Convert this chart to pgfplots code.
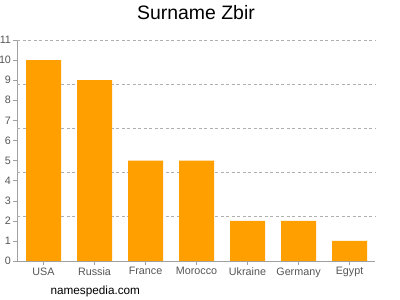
\documentclass[border=0pt]{standalone}
\usepackage{pgfplots}
\pgfplotsset{compat=1.18}
\usepackage{fontspec}
\setmainfont{Liberation Sans}
\definecolor{barorange}{RGB}{255,160,0}
\definecolor{ticktext}{RGB}{85,85,85}
\definecolor{axisgrey}{RGB}{160,160,160}
\definecolor{gridgrey}{RGB}{175,175,175}
\begin{document}
\begin{tikzpicture}[x=1bp,y=1bp]
\useasboundingbox (0,0) rectangle (400,300);
\node[font=\fontsize{19.5}{22}\selectfont, anchor=base] at (196,281) {Surname Zbir};
\node[font=\fontsize{11.8}{14}\selectfont, anchor=base west] at (47,6) {namespedia.com};
\begin{axis}[
  at={(17bp,39bp)}, anchor=south west,
  scale only axis, width=358bp, height=221bp,
  ymin=0, ymax=11,
  xmin=-0.52, xmax=6.5,
  ybar, bar width=35bp,
  axis x line*=bottom, axis y line*=left,
  axis line style={axisgrey},
  every tick/.style={axisgrey},
  ytick={0,1,...,11},
  xtick=data,
  xticklabels={USA,Russia,France,Morocco,Ukraine,Germany,Egypt},
  tick align=outside,
  major tick length=4bp,
  tick label style={font=\fontsize{10.8}{12}\selectfont, text=ticktext},
  /pgf/number format/assume math mode=true,
  yticklabel style={xshift=1.5bp},
  xticklabel style={yshift=1bp},
  extra y ticks={2.2,4.4,6.6,8.8,11},
  extra y tick labels={},
  extra y tick style={grid=major, major tick length=0pt},
  grid style={gridgrey, dash pattern=on 3bp off 2.5bp, line width=0.6pt},
  clip=false,
]
\addplot[fill=barorange, draw=none, bar shift=0pt] coordinates {
  (0,10) (1,9) (2,5) (3,5) (4,2) (5,2) (6,1)
};
\end{axis}
\end{tikzpicture}
\end{document}
